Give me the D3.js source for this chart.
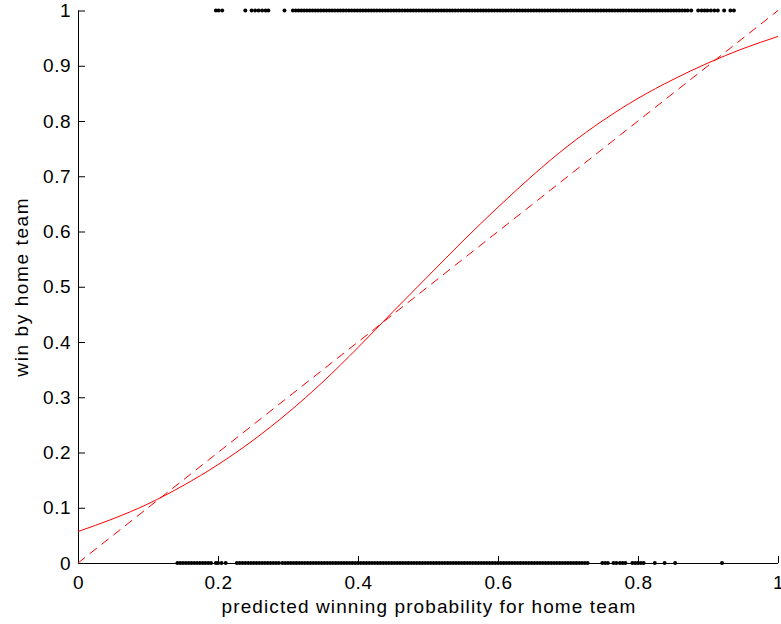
<!DOCTYPE html>
<html><head><meta charset="utf-8">
<script src="https://cdn.jsdelivr.net/npm/d3@7"></script>
<style>body{margin:0;background:#fff}svg{display:block}text{font-family:"Liberation Sans",Arial,sans-serif}</style>
</head><body>
<svg id="c" width="781" height="624"></svg>
<script>
// observed outcomes: predicted probability of games the home team won (y=1)
const wins = [0.197,0.201,0.206,0.239,0.248,0.253,0.258,0.263,0.268,0.272,0.295,0.307,0.311,0.315,0.319,0.323,0.327,0.331,0.335,0.339,0.343,0.347,0.351,0.355,0.359,0.363,0.367,0.371,0.375,0.379,0.383,0.387,0.391,0.395,0.399,0.403,0.407,0.411,0.415,0.419,0.423,0.427,0.431,0.435,0.439,0.443,0.447,0.451,0.455,0.459,0.463,0.467,0.471,0.475,0.479,0.483,0.487,0.491,0.495,0.499,0.503,0.507,0.511,0.515,0.519,0.523,0.527,0.531,0.535,0.539,0.543,0.547,0.551,0.555,0.559,0.563,0.567,0.571,0.575,0.579,0.583,0.587,0.591,0.595,0.599,0.603,0.607,0.611,0.615,0.619,0.623,0.627,0.631,0.635,0.639,0.643,0.647,0.651,0.655,0.659,0.663,0.667,0.671,0.675,0.679,0.683,0.687,0.691,0.695,0.699,0.703,0.707,0.711,0.715,0.719,0.723,0.727,0.731,0.735,0.739,0.743,0.747,0.751,0.755,0.759,0.763,0.767,0.771,0.775,0.779,0.783,0.787,0.791,0.795,0.799,0.803,0.807,0.811,0.815,0.819,0.823,0.827,0.831,0.835,0.839,0.843,0.847,0.851,0.855,0.859,0.863,0.867,0.871,0.876,0.886,0.891,0.895,0.899,0.904,0.909,0.914,0.923,0.932,0.937];
// games the home team lost (y=0)
const losses = [0.142,0.146,0.150,0.154,0.158,0.162,0.166,0.170,0.174,0.178,0.182,0.186,0.190,0.197,0.200,0.205,0.211,0.227,0.231,0.235,0.239,0.243,0.247,0.251,0.255,0.259,0.263,0.267,0.271,0.275,0.279,0.283,0.287,0.292,0.296,0.300,0.304,0.308,0.312,0.316,0.320,0.324,0.328,0.332,0.336,0.340,0.344,0.348,0.352,0.356,0.360,0.364,0.368,0.372,0.376,0.380,0.384,0.388,0.392,0.396,0.400,0.404,0.408,0.412,0.416,0.420,0.424,0.428,0.432,0.436,0.440,0.444,0.448,0.452,0.456,0.460,0.464,0.468,0.472,0.476,0.480,0.484,0.488,0.492,0.496,0.500,0.504,0.508,0.512,0.516,0.520,0.524,0.528,0.532,0.536,0.540,0.544,0.548,0.552,0.556,0.560,0.564,0.568,0.572,0.576,0.580,0.584,0.588,0.592,0.596,0.600,0.604,0.608,0.612,0.616,0.620,0.624,0.628,0.632,0.636,0.640,0.644,0.648,0.652,0.656,0.660,0.664,0.668,0.672,0.676,0.680,0.684,0.688,0.692,0.696,0.700,0.704,0.708,0.712,0.716,0.720,0.724,0.728,0.749,0.753,0.757,0.765,0.769,0.774,0.778,0.782,0.792,0.796,0.800,0.804,0.808,0.824,0.838,0.853,0.920];
// fitted (solid) curve
const fitX = [0,0.05,0.1,0.15,0.2,0.25,0.3,0.35,0.4,0.45,0.5,0.55,0.6,0.65,0.7,0.75,0.8,0.85,0.9,0.95,1];
const fitY = [0.057,0.080,0.107,0.140,0.178,0.222,0.272,0.328,0.390,0.455,0.519,0.583,0.644,0.702,0.755,0.801,0.841,0.875,0.905,0.931,0.953];
// reference diagonal (dashed)
const diagX = [0,1];
const diagY = [0,1];
const xTicks = [0,0.2,0.4,0.6,0.8,1];
const yTicks = [0,0.1,0.2,0.3,0.4,0.5,0.6,0.7,0.8,0.9,1];

const svg = d3.select("#c");
const L=78, R=778, T=10.5, B=563;
const x = d3.scaleLinear().domain([0,1]).range([L,R]);
const y = d3.scaleLinear().domain([0,1]).range([B,T]);

// axes
const ax = svg.append("g").attr("transform",`translate(0,${B})`)
  .call(d3.axisBottom(x).tickValues(xTicks).tickSize(-7).tickPadding(10).tickFormat(d3.format("")));
const ay = svg.append("g").attr("transform",`translate(${L},0)`)
  .call(d3.axisLeft(y).tickValues(yTicks).tickSize(-7).tickPadding(7).tickFormat(d3.format("")));
[ax,ay].forEach(g=>{
  g.select(".domain").attr("stroke","#000").attr("stroke-width",1);
  g.selectAll(".tick line").attr("stroke","#000");
  g.selectAll(".tick text").attr("font-size",19).attr("letter-spacing",0.5).attr("fill","#000");
});
ax.selectAll(".domain").attr("d",`M${L},0.5H${R}`);
ay.selectAll(".domain").attr("d",`M0.5,${B}V${T}`);
ax.selectAll(".tick text").attr("dy","0.85em");

// lines
const line = d3.line().x(d=>x(d[0])).y(d=>y(d[1]));
svg.append("path").datum(diagX.map((v,i)=>[v,diagY[i]]))
  .attr("d",line).attr("fill","none").attr("stroke","#ff0000").attr("stroke-width",1).attr("stroke-dasharray","9,6");
svg.append("path").datum(fitX.map((v,i)=>[v,fitY[i]]))
  .attr("d",line.curve(d3.curveMonotoneX)).attr("fill","none").attr("stroke","#ff0000").attr("stroke-width",1);

// dots
svg.append("g").selectAll("circle").data(wins).join("circle")
  .attr("cx",d=>x(d)).attr("cy",y(1)).attr("r",2).attr("fill","#000");
svg.append("g").selectAll("circle").data(losses).join("circle")
  .attr("cx",d=>x(d)).attr("cy",y(0)).attr("r",2).attr("fill","#000");

// labels
svg.append("text").attr("x",(L+R)/2+1).attr("y",613).attr("text-anchor","middle")
  .attr("font-size",19).attr("letter-spacing",1.1).text("predicted winning probability for home team");
svg.append("text").attr("transform",`translate(28,${(T+B)/2}) rotate(-90)`).attr("text-anchor","middle")
  .attr("font-size",19).attr("letter-spacing",1.6).text("win by home team");
</script>
</body></html>
